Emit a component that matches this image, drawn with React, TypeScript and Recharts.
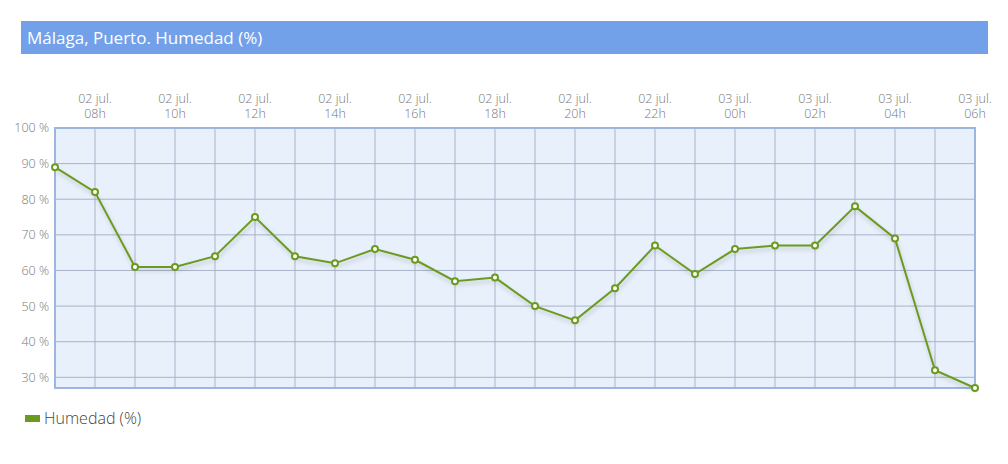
import React from "react";
import { LineChart, Line, XAxis, YAxis, CartesianGrid, ReferenceArea } from "recharts";

const days = [
  "02 jul.", "02 jul.", "02 jul.", "02 jul.", "02 jul.", "02 jul.", "02 jul.", "02 jul.",
  "02 jul.", "02 jul.", "02 jul.", "02 jul.", "02 jul.", "02 jul.", "02 jul.", "02 jul.",
  "02 jul.", "03 jul.", "03 jul.", "03 jul.", "03 jul.", "03 jul.", "03 jul.", "03 jul.",
];
const hours = [
  "07h", "08h", "09h", "10h", "11h", "12h", "13h", "14h", "15h", "16h", "17h", "18h",
  "19h", "20h", "21h", "22h", "23h", "00h", "01h", "02h", "03h", "04h", "05h", "06h",
];
const humedad = [89, 82, 61, 61, 64, 75, 64, 62, 66, 63, 57, 58, 50, 46, 55, 67, 59, 66, 67, 67, 78, 69, 32, 27];
const yTicks = [30, 40, 50, 60, 70, 80, 90, 100];

const data = hours.map((h, i) => ({ label: `${days[i]}|${h}`, humedad: humedad[i] }));

const GREEN = "#6b9b1e";
const FONT = "'Open Sans', sans-serif";

const XTick = (props: any) => {
  const { x, y, payload, index } = props;
  if (index % 2 === 0) return null;
  const [d, h] = String(payload.value).split("|");
  return (
    <g transform={`translate(${x},${y})`}>
      <text textAnchor="middle" fill="#777" fontSize={12.5} fontWeight={300} fontFamily={FONT} y={-17}>
        {d}
      </text>
      <text textAnchor="middle" fill="#777" fontSize={12.5} fontWeight={300} fontFamily={FONT} y={-2}>
        {h}
      </text>
    </g>
  );
};

export default function App() {
  return (
    <div style={{ position: "absolute", left: 0, top: 0, width: 1008, height: 464, background: "#fff" }}>
      <style>{`.hum-line { filter: drop-shadow(1px 3px 2px rgba(0,0,0,0.18)); }`}</style>
      <div
        style={{
          position: "absolute",
          left: 21,
          top: 21,
          width: 967,
          height: 33,
          background: "#72a1e9",
          color: "#fff",
          fontFamily: FONT,
          fontSize: 17,
          lineHeight: "33px",
          paddingLeft: 6,
          boxSizing: "border-box",
        }}
      >
        Málaga, Puerto. Humedad (%)
      </div>
      <LineChart
        width={1008}
        height={464}
        data={data}
        margin={{ top: 68, right: 33, bottom: 76, left: 5 }}
      >
        <CartesianGrid stroke="#aab3c8" strokeWidth={1} fill="#e8f0fb" />
        <XAxis
          dataKey="label"
          orientation="top"
          interval={0}
          height={60}
          axisLine={false}
          tickLine={false}
          tick={<XTick />}
        />
        <YAxis
          domain={[27, 100]}
          ticks={yTicks}
          width={50}
          axisLine={false}
          tickLine={false}
          tickSize={0}
          tickMargin={6}
          tickFormatter={(v: number) => `${v} %`}
          tick={{ fill: "#777", fontSize: 12.5, fontWeight: 300, fontFamily: FONT }}
        />
        <ReferenceArea y1={27} y2={100} fill="none" stroke="#9db6de" strokeWidth={2} ifOverflow="visible" />
        <Line
          className="hum-line"
          type="linear"
          dataKey="humedad"
          name="Humedad (%)"
          stroke={GREEN}
          strokeWidth={2}
          dot={{ r: 3, fill: "#fff", stroke: GREEN, strokeWidth: 2 }}
          activeDot={false}
          isAnimationActive={false}
        />
      </LineChart>
      <div
        style={{
          position: "absolute",
          left: 25,
          top: 407,
          display: "flex",
          alignItems: "center",
          fontFamily: FONT,
          fontSize: 16,
          fontWeight: 300,
          color: "#444",
          lineHeight: "22px",
        }}
      >
        <span style={{ display: "inline-block", width: 15, height: 7, background: GREEN, marginRight: 4 }} />
        Humedad (%)
      </div>
    </div>
  );
}
